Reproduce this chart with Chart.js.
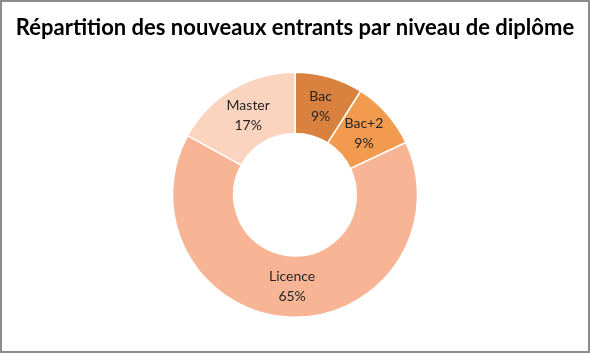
<!DOCTYPE html>
<html>
<head>
<meta charset="utf-8">
<script src="https://cdn.jsdelivr.net/npm/chart.js@4"></script>
<style>
  body { margin: 0; background: #fff; }
  #cadre { width: 590px; height: 353px; box-sizing: border-box; border: 2px solid #8c8c8c; }
  canvas { display: block; }
</style>
</head>
<body>
<div id="cadre"><canvas id="myChart" width="586" height="349"></canvas></div>
<script>
const niveaux = ["Bac", "Bac+2", "Licence", "Master"];
const parts = [9, 9, 65, 17];
const couleurs = ["#d9823f", "#f29a4e", "#f7b595", "#fad4bf"];

// écrit nom + pourcentage au milieu de chaque part
const etiquettes = {
  id: "etiquettes",
  afterDatasetsDraw(chart) {
    const ctx = chart.ctx;
    const meta = chart.getDatasetMeta(0);
    ctx.save();
    ctx.fillStyle = "#262626";
    ctx.font = "14px Lato";
    ctx.textAlign = "center";
    ctx.textBaseline = "middle";
    meta.data.forEach((arc, i) => {
      const p = arc.tooltipPosition();
      ctx.fillText(niveaux[i], p.x, p.y - 10);
      ctx.fillText(parts[i] + "%", p.x, p.y + 10);
    });
    ctx.restore();
  }
};

new Chart(document.getElementById("myChart"), {
  type: "doughnut",
  data: {
    labels: niveaux,
    datasets: [{
      data: parts,
      backgroundColor: couleurs,
      borderColor: "#ffffff",
      borderWidth: 1.5
    }]
  },
  options: {
    responsive: false,
    animation: false,
    cutout: "50%",
    layout: { padding: { top: 0, bottom: 33 } },
    plugins: {
      legend: { display: false },
      tooltip: { enabled: false },
      title: {
        display: true,
        text: "Répartition des nouveaux entrants par niveau de diplôme",
        color: "#000",
        font: { family: "Lato", size: 22, weight: "bold", lineHeight: 1.2 },
        padding: { top: 13, bottom: 30 }
      }
    }
  },
  plugins: [etiquettes]
});
</script>
</body>
</html>
